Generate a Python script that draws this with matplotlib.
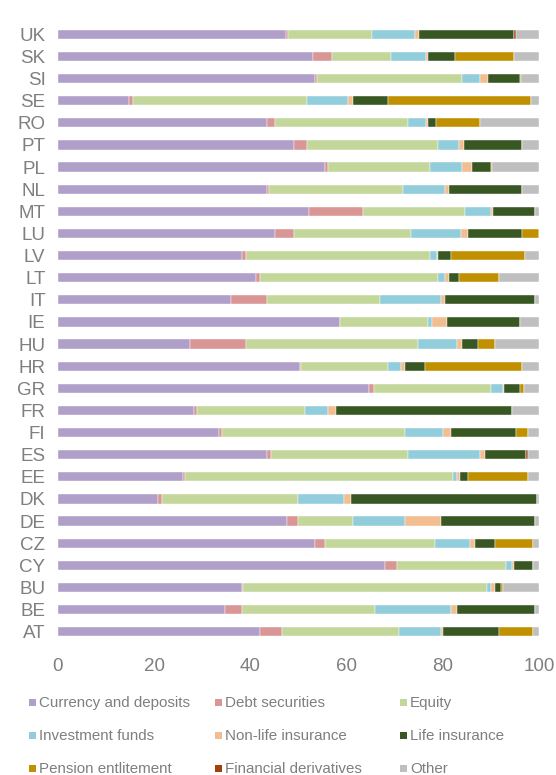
import numpy as np
import matplotlib
matplotlib.use("Agg")
import matplotlib.pyplot as plt
from matplotlib.patches import Rectangle

plt.rcParams['font.family'] = ['Liberation Sans', 'DejaVu Sans']

# countries from top to bottom
countries = ['UK', 'SK', 'SI', 'SE', 'RO', 'PT', 'PL', 'NL', 'MT', 'LU', 'LV', 'LT', 'IT', 'IE',
             'HU', 'HR', 'GR', 'FR', 'FI', 'ES', 'EE', 'DK', 'DE', 'CZ', 'CY', 'BU', 'BE', 'AT']

series_names = ['Currency and deposits', 'Debt securities', 'Equity',
                'Investment funds', 'Non-life insurance', 'Life insurance',
                'Pension entlitement', 'Financial derivatives', 'Other']

currency = [47.5, 53.1, 53.4, 14.8, 43.4, 49.1, 55.6, 43.5, 52.2, 45.2, 38.2, 41.2, 35.9, 58.7,
            27.4, 50.4, 64.7, 28.3, 33.4, 43.5, 26.0, 20.8, 47.7, 53.4, 67.9, 38.2, 34.8, 42.1]
debt = [0.3, 3.8, 0.4, 0.7, 1.7, 2.6, 0.5, 0.3, 11.2, 3.9, 0.9, 0.9, 7.5, 0.0,
        11.6, 0.2, 1.0, 0.7, 0.8, 0.7, 0.4, 0.8, 2.2, 2.2, 2.5, 0.2, 3.4, 4.4]
equity = [17.4, 12.3, 30.1, 36.2, 27.6, 27.4, 21.3, 28.0, 21.3, 24.3, 38.3, 37.0, 23.5, 18.3,
          35.8, 18.1, 24.3, 22.3, 38.0, 28.5, 55.8, 28.4, 11.4, 22.7, 22.7, 50.8, 27.8, 24.4]
inv_funds = [9.0, 7.3, 3.9, 8.6, 3.8, 4.3, 6.5, 8.7, 5.4, 10.4, 1.3, 1.3, 12.7, 0.8,
             8.2, 2.6, 2.6, 4.8, 7.8, 15.1, 0.8, 9.4, 10.9, 7.4, 1.2, 0.9, 15.7, 8.7]
non_life = [0.9, 0.4, 1.7, 1.0, 0.5, 1.0, 2.2, 0.8, 0.3, 1.4, 0.4, 0.9, 0.8, 3.1,
            0.9, 0.9, 0.2, 1.7, 1.7, 0.9, 0.5, 1.5, 7.4, 0.9, 0.5, 0.7, 1.3, 0.4]
life = [19.7, 5.6, 6.5, 7.3, 1.6, 12.1, 4.0, 15.2, 8.7, 11.3, 2.6, 2.1, 18.7, 15.1,
        3.4, 4.0, 3.2, 36.5, 13.5, 8.6, 1.7, 38.7, 19.5, 4.2, 3.9, 1.4, 16.1, 11.7]
pension = [0.0, 12.3, 0.3, 29.7, 9.2, 0.0, 0.1, 0.0, 0.0, 3.5, 15.3, 8.3, 0.0, 0.0,
           3.5, 20.3, 0.9, 0.0, 2.6, 0.0, 12.6, 0.0, 0.0, 7.9, 0.0, 0.3, 0.0, 7.0]
derivatives = [0.4, 0.0, 0.0, 0.0, 0.0, 0.0, 0.0, 0.0, 0.0, 0.0, 0.0, 0.0, 0.0, 0.0,
               0.0, 0.0, 0.0, 0.0, 0.0, 0.5, 0.0, 0.0, 0.0, 0.0, 0.0, 0.0, 0.0, 0.0]

series = [currency, debt, equity, inv_funds, non_life, life, pension, derivatives]
# "Other" fills the bar up to 100
other = [100 - sum(s[i] for s in series) for i in range(len(countries))]
series.append(other)

colors = ['#B09FC9', '#D99694', '#C4D79B', '#92CDDC', '#F2BE8F',
          '#385723', '#C09000', '#A0410D', '#BFBFBF']

grey = '#7F7F7F'

fig = plt.figure(figsize=(5.56, 7.75), dpi=100)
ax = fig.add_axes([0.1043, 0.1707, 0.8651, 0.7993])

y = np.arange(len(countries))
left = np.zeros(len(countries))
for vals, col, name in zip(series, colors, series_names):
    vals = np.array(vals)
    ax.barh(y, vals, left=left, height=0.42, color=col, edgecolor='white',
            linewidth=0.3, label=name)
    left += vals

ax.set_ylim(len(countries) - 0.5, -0.5)
ax.set_xlim(0, 100)
ax.set_yticks(y)
ax.set_yticklabels(countries)
ax.set_xticks([0, 20, 40, 60, 80, 100])
ax.tick_params(axis='both', length=0, colors=grey, labelsize=13.5)
ax.tick_params(axis='y', pad=9)
ax.tick_params(axis='x', pad=11)
for sp in ax.spines.values():
    sp.set_visible(False)

# legend laid out in a 3 x 3 grid like the original
col_x = [29, 215, 400]
row_y = [703, 736, 769]
W, H = 556.0, 775.0
for i, (name, col) in enumerate(zip(series_names, colors)):
    r, c = divmod(i, 3)
    x0 = col_x[c]
    yc = row_y[r]
    fig.add_artist(Rectangle((x0 / W, 1 - (yc + 3) / H), 7 / W, 7 / H,
                             transform=fig.transFigure, color=col, lw=0))
    fig.text((x0 + 10) / W, 1 - yc / H, name, color=grey, fontsize=10.9,
             va='center', ha='left')

fig.savefig('out.png', dpi=100)
